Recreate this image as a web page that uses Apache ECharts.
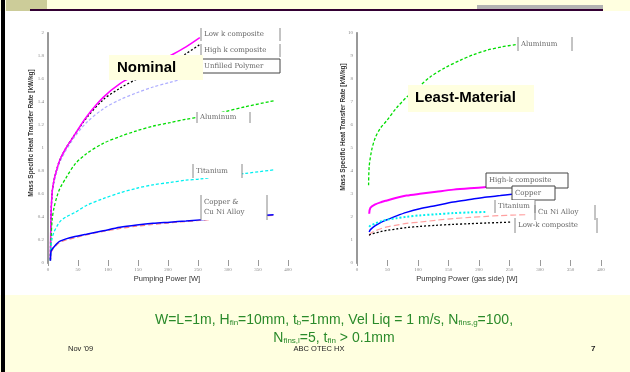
<!DOCTYPE html>
<html><head><meta charset="utf-8">
<script src="https://cdn.jsdelivr.net/npm/echarts@6/dist/echarts.min.js"></script>
<style>html,body{margin:0;padding:0;background:#fff}#c{width:630px;height:372px}</style>
</head><body><div id="c"></div>
<script>
// ---- Data: Nominal (left) ----
const nomX      = [4, 5, 7, 10, 15, 20, 30, 45, 64, 92, 120, 148, 175, 203, 230, 253, 290, 330, 376];
const nomLowK   = [0.03, 0.4, 0.62, 0.72, 0.82, 0.9, 1.0, 1.12, 1.27, 1.44, 1.56, 1.64, 1.72, 1.8, 1.88, 1.96];
const nomHighK  = [0.03, 0.4, 0.62, 0.72, 0.82, 0.9, 1.0, 1.12, 1.26, 1.42, 1.52, 1.6, 1.67, 1.74, 1.82, 1.9];
const nomPoly   = [0.03, 0.4, 0.6, 0.7, 0.8, 0.88, 0.98, 1.1, 1.22, 1.34, 1.42, 1.48, 1.53, 1.57, 1.61, 1.64];
const nomAlu    = [0.02, 0.2, 0.38, 0.48, 0.58, 0.65, 0.74, 0.86, 0.95, 1.04, 1.1, 1.15, 1.19, 1.22, 1.25, 1.27, 1.31, 1.36, 1.41];
const nomTi     = [0.02, 0.15, 0.22, 0.27, 0.32, 0.36, 0.4, 0.44, 0.5, 0.56, 0.61, 0.65, 0.68, 0.7, 0.72, 0.73, 0.76, 0.78, 0.81];
const nomCu     = [0.02, 0.1, 0.12, 0.14, 0.17, 0.19, 0.21, 0.23, 0.25, 0.28, 0.31, 0.33, 0.345, 0.355, 0.365, 0.375, 0.39, 0.405, 0.42];
const nomCuNi   = [0.02, 0.09, 0.11, 0.13, 0.16, 0.18, 0.2, 0.22, 0.245, 0.275, 0.3, 0.32, 0.335, 0.35, 0.36, 0.37, 0.385, 0.4, 0.415];
// ---- Data: Least-Material (right) ----
const lmAluX    = [19, 20, 24, 30, 38, 49, 65, 81, 103, 120, 145, 169, 190, 213, 238, 262];
const lmAlu     = [3.38, 4.2, 4.9, 5.45, 5.85, 6.2, 6.75, 7.2, 7.7, 8.09, 8.5, 8.81, 9.05, 9.25, 9.4, 9.5];
const lmX       = [20, 22, 30, 40, 49, 65, 81, 103, 130, 158, 185, 213, 235, 254, 278];
const lmHighK   = [2.14, 2.4, 2.55, 2.65, 2.72, 2.84, 2.93, 3.01, 3.1, 3.19, 3.25, 3.3, 3.33, 3.36];
const lmCu      = [1.35, 1.45, 1.62, 1.78, 1.88, 2.05, 2.2, 2.36, 2.5, 2.65, 2.76, 2.87, 2.93, 2.99];
const lmTi      = [1.57, 1.62, 1.72, 1.82, 1.88, 1.95, 2.01, 2.07, 2.12, 2.17, 2.2, 2.22];
const lmCuNi    = [1.2, 1.28, 1.4, 1.5, 1.57, 1.65, 1.72, 1.78, 1.86, 1.93, 1.98, 2.03, 2.06, 2.08, 2.1];
const lmLowK    = [1.2, 1.24, 1.3, 1.37, 1.42, 1.48, 1.54, 1.59, 1.64, 1.68, 1.71, 1.74, 1.76, 1.78];
// ---- Axis settings ----
const xMin = 0, xMax = 400, xStep = 50;
const nomYMax = 2, nomYStep = 0.2;
const lmYMax = 10, lmYStep = 1;

const zip = (xs, ys) => ys.map((y, i) => [xs[i], y]);
const chart = echarts.init(document.getElementById('c'), null, {renderer: 'canvas'});

function xAx(g, top) {
  return {type: 'value', gridIndex: g, min: xMin, max: xMax, interval: xStep, position: top ? 'top' : 'bottom',
    axisLine: {show: false}, splitLine: {show: false},
    axisTick: {show: true, inside: true, length: 3, lineStyle: {color: '#999', width: 1}},
    axisLabel: {show: !top, fontSize: 5, color: '#888', margin: 4, fontFamily: 'Liberation Serif'}};
}
function yAx(g, max, step, right) {
  return {type: 'value', gridIndex: g, min: 0, max: max, interval: step, position: right ? 'right' : 'left',
    axisLine: {show: true, lineStyle: {color: right ? '#999' : '#aaa', width: right ? 2 : 1.5}},
    splitLine: {show: false},
    axisTick: {show: false},
    axisLabel: {show: !right, fontSize: 5, color: '#888', margin: 4, fontFamily: 'Liberation Serif'}};
}
function ln(name, xi, data, color, type, width) {
  return {name: name, type: 'line', xAxisIndex: xi, yAxisIndex: xi, data: data, showSymbol: false, smooth: 0.3,
    clip: true, lineStyle: {color: color, type: type, width: width}, silent: true, z: 3};
}

// label annotation helper
function lab(x, y, w, h, lines, mode) {
  const els = [];
  els.push({type: 'rect', shape: {x: x, y: y, width: w, height: h}, style: {fill: '#fff',
    stroke: mode === 'box' ? '#444' : null, lineWidth: 1}, z: 50});
  if (mode !== 'box') {
    els.push({type: 'line', shape: {x1: x, y1: y, x2: x, y2: y + h}, style: {stroke: '#888', lineWidth: 1}, z: 51});
    els.push({type: 'line', shape: {x1: x + w, y1: y, x2: x + w, y2: y + h}, style: {stroke: '#888', lineWidth: 1}, z: 51});
  }
  els.push({type: 'text', x: x + 3, y: y + h / 2, style: {text: lines, fill: '#666', font: '7px "DejaVu Serif"',
    verticalAlign: 'middle', lineHeight: 10}, z: 52});
  return els;
}

const graphics = [
  {type: 'rect', shape: {x: 0, y: 0, width: 630, height: 11}, style: {fill: '#FFFFE0'}, z: -10},
  {type: 'rect', shape: {x: 6, y: 0, width: 41, height: 11}, style: {fill: '#CCCC99'}, z: -9},
  {type: 'rect', shape: {x: 477, y: 5, width: 126, height: 4}, style: {fill: '#B3B3B3'}, z: -9},
  {type: 'rect', shape: {x: 30, y: 9, width: 573, height: 2}, style: {fill: '#330033'}, z: -8},
  {type: 'rect', shape: {x: 1, y: 0, width: 4, height: 372}, style: {fill: '#000'}, z: -8},
  {type: 'rect', shape: {x: 0, y: 295, width: 630, height: 77}, style: {fill: '#FFFFE0'}, z: -10},
  // axis titles
  {type: 'text', x: 167, y: 279, style: {text: 'Pumping Power [W]', fill: '#333', font: '7.5px "Liberation Sans"', align: 'center', verticalAlign: 'middle'}},
  {type: 'text', x: 467, y: 279, style: {text: 'Pumping Power (gas side) [W]', fill: '#333', font: '7.5px "Liberation Sans"', align: 'center', verticalAlign: 'middle'}},
  {type: 'text', x: 31, y: 133, rotation: Math.PI / 2, style: {text: 'Mass Specific Heat Transfer Rate [kW/kg]', fill: '#333', font: 'bold 6.5px "Liberation Sans"', align: 'center', verticalAlign: 'middle'}},
  {type: 'text', x: 343, y: 127, rotation: Math.PI / 2, style: {text: 'Mass Specific Heat Transfer Rate [kW/kg]', fill: '#333', font: 'bold 6.5px "Liberation Sans"', align: 'center', verticalAlign: 'middle'}},
  // titles
  {type: 'rect', shape: {x: 109, y: 55, width: 94, height: 25}, style: {fill: '#FFFFE0'}, z: 60},
  {type: 'text', x: 117, y: 68, style: {text: 'Nominal', fill: '#000', font: 'bold 15px "Liberation Sans"', verticalAlign: 'middle'}, z: 61},
  {type: 'rect', shape: {x: 408, y: 85, width: 126, height: 27}, style: {fill: '#FFFFE0'}, z: 60},
  {type: 'text', x: 415, y: 98, style: {text: 'Least-Material', fill: '#000', font: 'bold 15px "Liberation Sans"', verticalAlign: 'middle'}, z: 61},
  // footer
  {type: 'text', x: 334, y: 320, style: {text: 'W=L=1m, H{s|fin}=10mm, t{s|b}=1mm, Vel Liq = 1 m/s, N{s|fins,g}=100,',
    fill: '#2A8A2A', font: '14px "Liberation Sans"', align: 'center', verticalAlign: 'middle',
    rich: {s: {fontSize: 8, fill: '#2A8A2A', verticalAlign: 'bottom', lineHeight: 10, padding: [6, 0, 0, 0]}}}},
  {type: 'text', x: 334, y: 338, style: {text: 'N{s|fins,l}=5, t{s|fin} > 0.1mm',
    fill: '#2A8A2A', font: '14px "Liberation Sans"', align: 'center', verticalAlign: 'middle',
    rich: {s: {fontSize: 8, fill: '#2A8A2A', verticalAlign: 'bottom', lineHeight: 10, padding: [6, 0, 0, 0]}}}},
  {type: 'text', x: 68, y: 349, style: {text: "Nov '09", fill: '#222', font: '7.5px "Liberation Sans"', verticalAlign: 'middle'}},
  {type: 'text', x: 319, y: 349, style: {text: 'ABC OTEC HX', fill: '#222', font: '7.5px "Liberation Sans"', align: 'center', verticalAlign: 'middle'}},
  {type: 'text', x: 591, y: 349, style: {text: '7', fill: '#222', font: 'bold 8px "Liberation Sans"', verticalAlign: 'middle'}}
].concat(
  lab(201, 28, 79, 13, 'Low k composite', 'bars'),
  lab(201, 44, 79, 13, 'High k composite', 'bars'),
  lab(201, 59, 79, 14, 'Unfilled Polymer', 'box'),
  lab(197, 112, 53, 11, 'Aluminum', 'bars'),
  lab(193, 164, 49, 14, 'Titanium', 'bars'),
  lab(201, 195, 66, 25, 'Copper &\nCu Ni Alloy', 'bars'),
  lab(518, 37, 54, 14, 'Aluminum', 'bars'),
  lab(486, 173, 82, 15, 'High-k composite', 'box'),
  lab(512, 186, 43, 14, 'Copper', 'box'),
  lab(495, 200, 40, 13, 'Titanium', 'bars'),
  lab(535, 205, 60, 15, 'Cu Ni Alloy', 'bars'),
  lab(515, 218, 82, 15, 'Low-k composite', 'bars')
);

chart.setOption({
  animation: false,
  backgroundColor: '#fff',
  grid: [
    {left: 48, top: 33, width: 240, height: 230},
    {left: 357, top: 33, width: 244, height: 230}
  ],
  xAxis: [xAx(0, false), xAx(0, true), xAx(1, false), xAx(1, true)],
  yAxis: [yAx(0, nomYMax, nomYStep, false), yAx(0, nomYMax, nomYStep, true), yAx(1, lmYMax, lmYStep, false), yAx(1, lmYMax, lmYStep, true)],
  graphic: {elements: graphics},
  series: [
    ln('Unfilled Polymer', 0, zip(nomX, nomPoly), '#AFAFFF', [3, 2], 1.2),
    ln('High k composite', 0, zip(nomX, nomHighK), '#000', [2, 2], 1.3),
    ln('Low k composite', 0, zip(nomX, nomLowK), '#FF00FF', 'solid', 1.5),
    ln('Aluminum', 0, zip(nomX, nomAlu), '#00DD00', [3, 2], 1.3),
    ln('Titanium', 0, zip(nomX, nomTi), '#00F0F0', [3, 2], 1.3),
    ln('Cu Ni Alloy', 0, zip(nomX, nomCuNi), '#FF8080', [5, 3], 1.2),
    ln('Copper', 0, zip(nomX, nomCu), '#0000FF', 'solid', 1.5),
    ln('Aluminum', 2, zip(lmAluX, lmAlu), '#00DD00', [3, 2], 1.3),
    ln('High-k composite', 2, zip(lmX, lmHighK), '#FF00FF', 'solid', 2),
    ln('Copper', 2, zip(lmX, lmCu), '#0000FF', 'solid', 1.5),
    ln('Titanium', 2, zip(lmX, lmTi), '#00F0F0', [2, 2], 2),
    ln('Cu Ni Alloy', 2, zip(lmX, lmCuNi), '#FFA0A0', [6, 3], 1.2),
    ln('Low-k composite', 2, zip(lmX, lmLowK), '#000', [2, 2], 1.3)
  ]
});
</script></body></html>
